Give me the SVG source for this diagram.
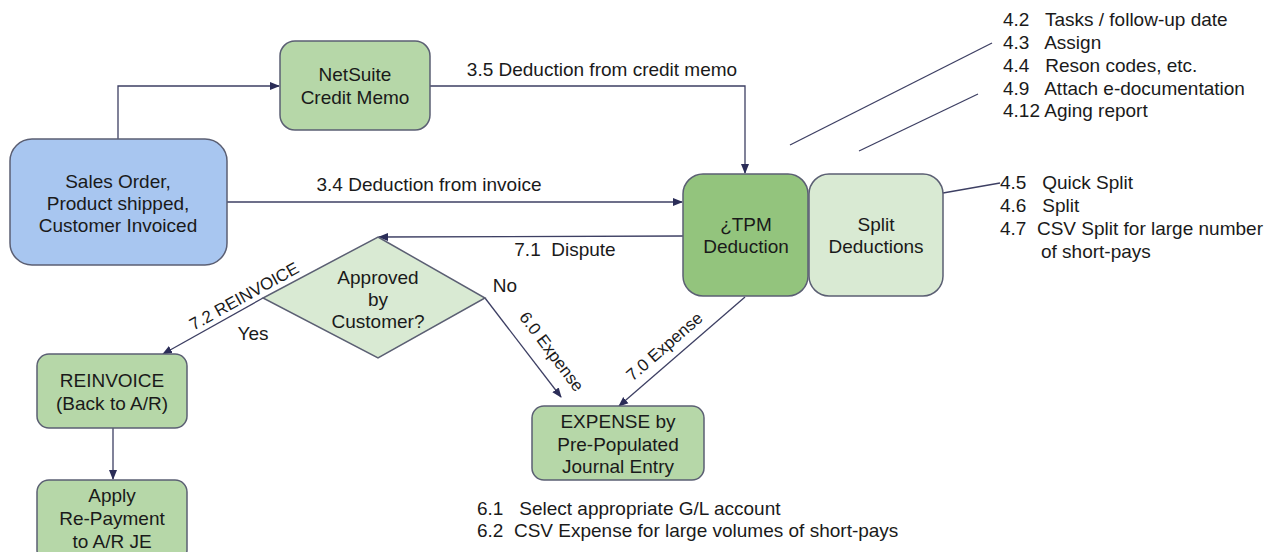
<svg xmlns="http://www.w3.org/2000/svg" width="1282" height="552" viewBox="0 0 1282 552">
  <style>
    text { font-family: "Liberation Sans", Arial, sans-serif; font-size: 19px; fill: #1a1a1a; }
    .c { text-anchor: middle; }
    .rot { font-size: 17px; }
    .box { stroke: #5b5f73; stroke-width: 1.5; }
    .blue { fill: #a8c6f0; }
    .green { fill: #b6d7a8; }
    .dark { fill: #93c47d; }
    .light { fill: #d9ead3; }
    .edge { fill: none; stroke: #3d3f63; stroke-width: 1.3; }
    .arr { marker-end: url(#ah); }
  </style>
  <defs>
    <marker id="ah" viewBox="0 0 10 10" refX="9" refY="5" markerWidth="10" markerHeight="10" markerUnits="userSpaceOnUse" orient="auto">
      <path d="M0,1 L10,5 L0,9 z" fill="#2b2d58"/>
    </marker>
  </defs>

  <!-- connectors -->
  <g id="connectors">
    <path class="edge arr" d="M118,139 V86 H279"/>
    <path class="edge arr" d="M430,86 H745 V173"/>
    <path class="edge arr" d="M227,202 H682"/>
    <path class="edge arr" d="M683,236 L379,237"/>
    <path class="edge arr" d="M263,298 L163,354"/>
    <path class="edge arr" d="M485,298 L561,397"/>
    <path class="edge arr" d="M745,297 L619,406"/>
    <path class="edge arr" d="M113,428 V479"/>
    <path class="edge" d="M943,193 L1000,183"/>
    <path class="edge" d="M790,145 L992,43"/>
    <path class="edge" d="M859,151 L978,94"/>

    <text x="602" y="76" class="c">3.5 Deduction from credit memo</text>
    <text x="429" y="191" class="c">3.4 Deduction from invoice</text>
    <text x="565" y="256" class="c" xml:space="preserve">7.1  Dispute</text>
    <text x="244" y="302" class="c rot" transform="rotate(-29 244 296)">7.2 REINVOICE</text>
    <text x="253" y="340" class="c">Yes</text>
    <text x="505" y="292" class="c">No</text>
    <text x="551" y="357" class="c rot" transform="rotate(53 551 352)">6.0 Expense</text>
    <text x="665" y="352" class="c rot" transform="rotate(-41 665 347)">7.0 Expense</text>
  </g>

  <!-- nodes -->
  <g id="sales-order">
    <rect class="box blue" x="10" y="139" width="217" height="126" rx="22"/>
    <text x="118" y="188" class="c">Sales Order,</text>
    <text x="118" y="210" class="c">Product shipped,</text>
    <text x="118" y="232" class="c">Customer Invoiced</text>
  </g>

  <g id="netsuite-credit-memo">
    <rect class="box green" x="280" y="41" width="150" height="89" rx="15"/>
    <text x="355" y="81" class="c">NetSuite</text>
    <text x="355" y="104" class="c">Credit Memo</text>
  </g>

  <g id="tpm-deduction">
    <rect class="box dark" x="683" y="174" width="125" height="122" rx="20"/>
    <text x="746" y="231" class="c">¿TPM</text>
    <text x="746" y="253" class="c">Deduction</text>
  </g>

  <g id="split-deductions">
    <rect class="box light" x="809" y="174" width="134" height="122" rx="20"/>
    <text x="876" y="231" class="c">Split</text>
    <text x="876" y="253" class="c">Deductions</text>
  </g>

  <g id="approved-decision">
    <polygon class="box light" points="378,237 485,298 378,358 263,298"/>
    <text x="378" y="284" class="c">Approved</text>
    <text x="378" y="306" class="c">by</text>
    <text x="378" y="328" class="c">Customer?</text>
  </g>

  <g id="reinvoice">
    <rect class="box green" x="37" y="354" width="150" height="74" rx="12"/>
    <text x="112" y="387" class="c">REINVOICE</text>
    <text x="112" y="410" class="c">(Back to A/R)</text>
  </g>

  <g id="apply-repayment">
    <rect class="box green" x="37" y="480" width="150" height="82" rx="12"/>
    <text x="112" y="502" class="c">Apply</text>
    <text x="112" y="525" class="c">Re-Payment</text>
    <text x="112" y="548" class="c">to A/R JE</text>
  </g>

  <g id="expense-entry">
    <rect class="box green" x="532" y="406" width="172" height="74" rx="12"/>
    <text x="618" y="428" class="c">EXPENSE by</text>
    <text x="618" y="451" class="c">Pre-Populated</text>
    <text x="618" y="473" class="c">Journal Entry</text>
  </g>

  <!-- annotation lists -->
  <g id="notes-tpm">
    <text x="1003" y="26" xml:space="preserve">4.2   Tasks / follow-up date</text>
    <text x="1003" y="49" xml:space="preserve">4.3   Assign</text>
    <text x="1003" y="72" xml:space="preserve">4.4   Reson codes, etc.</text>
    <text x="1003" y="95" xml:space="preserve">4.9   Attach e-documentation</text>
    <text x="1003" y="117">4.12 Aging report</text>
  </g>

  <g id="notes-split">
    <text x="1000" y="189" xml:space="preserve">4.5   Quick Split</text>
    <text x="1000" y="212" xml:space="preserve">4.6   Split</text>
    <text x="1000" y="235" xml:space="preserve">4.7  CSV Split for large number</text>
    <text x="1041" y="258">of short-pays</text>
  </g>

  <g id="notes-expense">
    <text x="477" y="515" xml:space="preserve">6.1   Select appropriate G/L account</text>
    <text x="477" y="537" xml:space="preserve">6.2  CSV Expense for large volumes of short-pays</text>
  </g>
</svg>
